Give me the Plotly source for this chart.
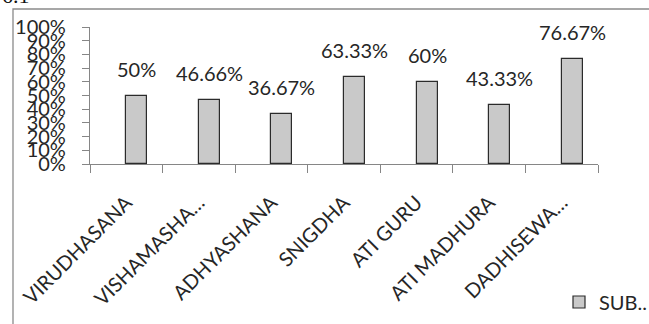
import plotly.graph_objects as go

categories = ["VIRUDHASANA", "VISHAMASHA…", "ADHYASHANA", "SNIGDHA", "ATI GURU", "ATI MADHURA", "DADHISEWA…"]
values = [0.50, 0.4666, 0.3667, 0.6333, 0.60, 0.4333, 0.7667]
value_labels = ["50%", "46.66%", "36.67%", "63.33%", "60%", "43.33%", "76.67%"]
series_name = "SUB.."

W, H = 649, 324
L, R, T, B = 90, 51, 27, 160
pw, ph = W - L - R, H - T - B

def px_x(x):
    return (x - L) / pw

def px_y(y):
    return (H - B - y) / ph

FONT = "Lato"
TXT = "#262626"
AX = "#868686"

fig = go.Figure()
fig.add_trace(go.Bar(
    x=categories, y=values, name=series_name,
    width=0.29, offset=0,
    marker=dict(color="#c9c9c9", line=dict(color="#2b2b2b", width=1.2)),
    showlegend=True,
))

annotations = []
for c, v, t in zip(categories, values, value_labels):
    annotations.append(dict(
        x=c, y=v, xref="x", yref="y", text=t, showarrow=False,
        xanchor="center", yanchor="bottom", xshift=10.5, yshift=13,
        font=dict(family=FONT, size=20, color=TXT),
    ))
annotations.append(dict(
    x=px_x(0), y=px_y(10), xref="paper", yref="paper", text="6.1",
    showarrow=False, xanchor="left", yanchor="bottom",
    font=dict(family="Liberation Serif", size=22, color="#111"),
))

fig.update_layout(
    width=W, height=H,
    margin=dict(l=L, r=R, t=T, b=B, autoexpand=False),
    paper_bgcolor="white", plot_bgcolor="white",
    bargap=0,
    annotations=annotations,
    shapes=[dict(type="rect", xref="paper", yref="paper",
                 x0=px_x(13), x1=px_x(660), y0=px_y(340), y1=px_y(9),
                 line=dict(color="#8a8a8a", width=1.3), fillcolor="rgba(0,0,0,0)",
                 layer="below")],
    legend=dict(x=px_x(559), y=px_y(302), xanchor="left", yanchor="middle",
                font=dict(family=FONT, size=20, color=TXT),
                bgcolor="rgba(0,0,0,0)", itemwidth=30,
                tracegroupgap=0),
    xaxis=dict(
        type="category", showline=True, linecolor=AX, linewidth=1.2,
        ticks="outside", tickson="boundaries", ticklen=8, tickcolor=AX, tickwidth=1.2,
        tickangle=-45, ticklabelstandoff=18, automargin=False,
        tickfont=dict(family=FONT, size=20, color=TXT),
        showgrid=False, zeroline=False, range=[-0.5, 6.5],
    ),
    yaxis=dict(
        range=[0, 1], dtick=0.1, tick0=0, tickformat=".0%",
        showline=True, linecolor=AX, linewidth=1.2,
        ticks="outside", ticklen=7, tickcolor=AX, tickwidth=1.2,
        ticklabelstandoff=12, automargin=False,
        tickfont=dict(family=FONT, size=20, color=TXT),
        showgrid=False, zeroline=False,
    ),
)

fig.write_html("out.html")
